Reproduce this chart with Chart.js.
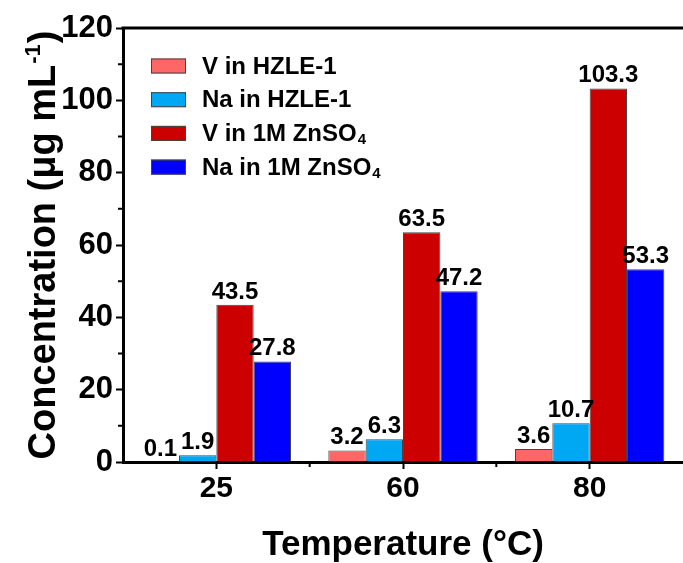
<!DOCTYPE html>
<html>
<head>
<meta charset="utf-8">
<script src="https://cdn.jsdelivr.net/npm/chart.js@4"></script>
<style>
  body { margin: 0; background: #fff; }
  #wrap { width: 683px; height: 563px; }
</style>
</head>
<body>
<div id="wrap"><canvas id="chart" width="683" height="563"></canvas></div>
<script>
// Leaching concentration vs. temperature
const temps = ['25', '60', '80'];
const seriesNames = ['V in HZLE-1', 'Na in HZLE-1', 'V in 1M ZnSO4', 'Na in 1M ZnSO4'];
const vHzle = [0.1, 3.2, 3.6];
const naHzle = [1.9, 6.3, 10.7];
const vZnso4 = [43.5, 63.5, 103.3];
const naZnso4 = [27.8, 47.2, 53.3];
const yTicks = [0, 20, 40, 60, 80, 100, 120];

const colors = ['#FF6666', '#00A8F3', '#CC0000', '#0000FF'];
const FONT = '"Liberation Sans", Arial, sans-serif';

// draw a string, putting a trailing "SO4" digit as subscript
function drawLabel(ctx, text, x, y, size) {
  const m = text.match(/^(.*SO)(\d)$/);
  ctx.font = 'bold ' + size + 'px ' + FONT;
  if (!m) { ctx.fillText(text, x, y); return; }
  ctx.fillText(m[1], x, y);
  const w = ctx.measureText(m[1]).width;
  ctx.font = 'bold ' + Math.round(size * 0.62) + 'px ' + FONT;
  ctx.fillText(m[2], x + w + 1, y + size * 0.22);
}

const extras = {
  id: 'extras',
  afterDraw(chart) {
    const ctx = chart.ctx;
    const area = chart.chartArea;
    const x = chart.scales.x, y = chart.scales.y;
    ctx.save();

    // top frame line
    ctx.strokeStyle = '#000';
    ctx.lineWidth = 3;
    ctx.beginPath();
    ctx.moveTo(area.left - 1.5, area.top);
    ctx.lineTo(chart.width, area.top);
    ctx.stroke();

    // minor ticks
    ctx.lineWidth = 2;
    ctx.beginPath();
    for (let i = 0; i < yTicks.length - 1; i++) {
      const py = y.getPixelForValue((yTicks[i] + yTicks[i + 1]) / 2);
      ctx.moveTo(area.left - 5, py);
      ctx.lineTo(area.left, py);
    }
    for (let i = 0; i < temps.length - 1; i++) {
      const px = (x.getPixelForValue(i) + x.getPixelForValue(i + 1)) / 2;
      ctx.moveTo(px, area.bottom);
      ctx.lineTo(px, area.bottom + 5);
    }
    ctx.stroke();

    // value labels over the bars
    ctx.fillStyle = '#000';
    ctx.textAlign = 'center';
    ctx.textBaseline = 'alphabetic';
    ctx.font = 'bold 24px ' + FONT;
    chart.data.datasets.forEach((ds, di) => {
      chart.getDatasetMeta(di).data.forEach((bar, i) => {
        ctx.fillText(ds.data[i].toFixed(1), bar.x, bar.y - 6);
      });
    });

    // legend
    ctx.textAlign = 'left';
    ctx.textBaseline = 'middle';
    seriesNames.forEach((name, i) => {
      const cy = 66 + i * 33.7;
      ctx.fillStyle = colors[i];
      ctx.fillRect(151, cy - 7.5, 35, 15);
      ctx.strokeStyle = '#444';
      ctx.lineWidth = 1;
      ctx.strokeRect(151.5, cy - 7, 34, 14);
      ctx.fillStyle = '#000';
      drawLabel(ctx, name, 202, cy + 1, 24);
    });

    // axis titles
    ctx.textBaseline = 'alphabetic';
    ctx.textAlign = 'center';
    ctx.font = 'bold 35px ' + FONT;
    ctx.fillText('Temperature (°C)', (area.left + chart.width) / 2, 555);

    ctx.translate(55, (area.top + area.bottom) / 2);
    ctx.rotate(-Math.PI / 2);
    const main = 'Concentration (μg mL';
    const sup = '-1';
    const close = ')';
    ctx.font = 'bold 38px ' + FONT;
    const wMain = ctx.measureText(main).width;
    const wClose = ctx.measureText(close).width;
    ctx.font = 'bold 22px ' + FONT;
    const wSup = ctx.measureText(sup).width;
    let sx = -(wMain + wSup + wClose + 2) / 2;
    ctx.textAlign = 'left';
    ctx.font = 'bold 38px ' + FONT;
    ctx.fillText(main, sx, 0);
    sx += wMain + 1;
    ctx.font = 'bold 22px ' + FONT;
    ctx.fillText(sup, sx, -15);
    sx += wSup + 1;
    ctx.font = 'bold 38px ' + FONT;
    ctx.fillText(close, sx, 0);
    ctx.restore();
  }
};

const datasets = [vHzle, naHzle, vZnso4, naZnso4].map((d, i) => ({
  label: seriesNames[i],
  data: d,
  backgroundColor: colors[i],
  borderColor: '#444',
  borderWidth: 1,
  categoryPercentage: 0.8,
  barPercentage: 1.0
}));

new Chart(document.getElementById('chart'), {
  type: 'bar',
  data: { labels: temps, datasets: datasets },
  options: {
    responsive: false,
    animation: false,
    layout: { padding: { top: 28, right: 0, left: 0, bottom: 0 } },
    plugins: { legend: { display: false }, tooltip: { enabled: false } },
    scales: {
      x: {
        afterFit(scale) { scale.height = 101; },
        afterSetDimensions(scale) { scale.right = 683; scale.width = scale.right - scale.left; },
        grid: { offset: false, drawOnChartArea: false, tickLength: 7, tickWidth: 2, tickColor: '#000' },
        border: { color: '#000', width: 3 },
        ticks: { color: '#000', font: { family: FONT, size: 30, weight: 'bold' }, padding: 2 }
      },
      y: {
        min: 0,
        max: 120,
        afterFit(scale) { scale.width = 123; },
        afterBuildTicks(scale) { scale.ticks = yTicks.map(v => ({ value: v })); },
        grid: { drawOnChartArea: false, tickLength: 7, tickWidth: 2, tickColor: '#000' },
        border: { color: '#000', width: 3 },
        ticks: { color: '#000', font: { family: FONT, size: 31, weight: 'bold' }, padding: 3 }
      }
    }
  },
  plugins: [extras]
});
</script>
</body>
</html>
